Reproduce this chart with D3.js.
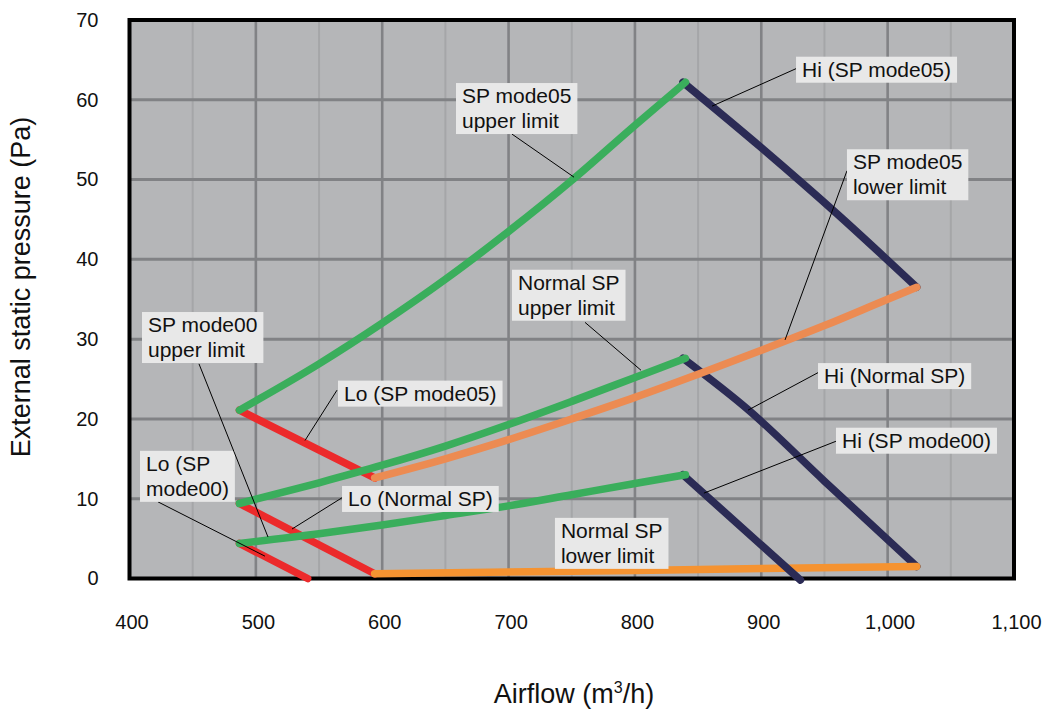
<!DOCTYPE html>
<html>
<head>
<meta charset="utf-8">
<script src="https://cdn.jsdelivr.net/npm/d3@7"></script>
<style>
  body { margin: 0; background: #fff; }
  text { font-family: "Liberation Sans", Arial, sans-serif; fill: #111; }
</style>
</head>
<body>
<div id="chart"></div>
<script>
// Chart values (airflow m3/h, pressure Pa)
var xTicks = [400, 500, 600, 700, 800, 900, 1000, 1100];
var yTicks = [0, 10, 20, 30, 40, 50, 60, 70];

// upper limit curves (green)
var flowUpper = [487, 550, 600, 650, 700, 750, 800, 840];
var sp05Upper = [21.1, 26.9, 32.0, 37.5, 43.5, 49.9, 56.8, 62.2];
var normalUpper = [9.4, 12.0, 14.2, 16.6, 19.3, 22.2, 25.2, 27.6];
var sp00Upper = [4.4, 5.6, 6.7, 7.9, 9.1, 10.5, 11.9, 13.0];

// Lo lines (red)
var flowLo05 = [487, 594];
var lo05 = [21.1, 12.6];
var flowLoNormal = [487, 594];
var loNormal = [9.4, 0.6];
var flowLo00 = [487, 541];
var lo00 = [4.4, 0];

// lower limit curves (orange)
var flowLower05 = [594, 650, 700, 750, 800, 850, 900, 950, 1000, 1023];
var sp05Lower = [12.6, 15.0, 17.4, 20.0, 22.7, 25.6, 28.6, 31.7, 35.0, 36.5];
var flowLowerNormal = [594, 700, 800, 900, 1023];
var normalLower = [0.6, 0.8, 1.0, 1.25, 1.5];

// Hi lines (navy)
var flowHi05 = [838, 900, 960, 1023];
var hi05 = [62.2, 54.0, 45.7, 36.5];
var flowHiNormal = [838, 890, 950, 1023];
var hiNormal = [27.6, 21.1, 12.2, 1.5];
var flowHi00 = [838, 931];
var hi00 = [13.0, -0.2];

// Callout labels: box corner (x, y) and leader line (from -> to), in data units
var callouts = [
  { lines: ["Hi (SP mode05)"], x: 927.5, y: 65.4, fx: 927.5, fy: 63.9, tx: 861, ty: 59.2 },
  { lines: ["SP mode05", "lower limit"], x: 967.8, y: 53.8, fx: 967.8, fy: 51.1, tx: 918.8, ty: 29.9 },
  { lines: ["SP mode05", "upper limit"], x: 658.4, y: 62.1, fx: 702.7, fy: 55.7, tx: 751.8, ty: 50.3 },
  { lines: ["Normal SP", "upper limit"], x: 702.7, y: 38.7, fx: 760.5, fy: 32.1, tx: 804.8, ty: 26.1 },
  { lines: ["Hi (Normal SP)"], x: 944.9, y: 27.0, fx: 944.9, fy: 25.8, tx: 889.5, ty: 21.1 },
  { lines: ["Hi (SP mode00)"], x: 959.1, y: 18.9, fx: 959.1, fy: 17.2, tx: 854.6, ty: 10.7 },
  { lines: ["Normal SP", "lower limit"], x: 736.7, y: 7.6 },
  { lines: ["Lo (Normal SP)"], x: 568.2, y: 11.6, fx: 569.0, fy: 10.2, tx: 528.6, ty: 6.2 },
  { lines: ["Lo (SP mode05)"], x: 565.0, y: 24.8, fx: 564.2, fy: 23.6, tx: 538.9, ty: 17.3 },
  { lines: ["Lo (SP", "mode00)"], x: 408.3, y: 16.0, fx: 422.6, fy: 9.6, tx: 507.2, ty: 2.8 },
  { lines: ["SP mode00", "upper limit"], x: 409.9, y: 33.4, fx: 455, fy: 26.9, tx: 509.6, ty: 5.2 }
];

var svgWidth = 1048;
var svgHeight = 713;

var margin = { top: 20, right: 34, bottom: 134.5, left: 129.5 };
var chartWidth = svgWidth - margin.left - margin.right;
var chartHeight = svgHeight - margin.top - margin.bottom;

var svg = d3.select("#chart")
  .append("svg")
  .attr("width", svgWidth)
  .attr("height", svgHeight);

var chartGroup = svg.append("g")
  .attr("transform", `translate(${margin.left}, ${margin.top})`);

var xScale = d3.scaleLinear().domain([400, 1100]).range([0, chartWidth]);
var yScale = d3.scaleLinear().domain([0, 70]).range([chartHeight, 0]);

// plot background
chartGroup.append("rect")
  .attr("width", chartWidth)
  .attr("height", chartHeight)
  .attr("fill", "#b5b6b8");

// vertical grid, every 50 (minor lighter)
var vGrid = d3.range(450, 1100, 50);
chartGroup.append("g").selectAll("line")
  .data(vGrid)
  .enter()
  .append("line")
  .attr("x1", d => xScale(d))
  .attr("x2", d => xScale(d))
  .attr("y1", 0)
  .attr("y2", chartHeight)
  .attr("stroke", d => d % 100 === 0 ? "#818285" : "#a5a6a8")
  .attr("stroke-width", d => d % 100 === 0 ? 2.6 : 2);

// horizontal grid
chartGroup.append("g").selectAll("line")
  .data(yTicks.slice(1, -1))
  .enter()
  .append("line")
  .attr("x1", 0)
  .attr("x2", chartWidth)
  .attr("y1", d => yScale(d))
  .attr("y2", d => yScale(d))
  .attr("stroke", "#818285")
  .attr("stroke-width", 3);

// frame
chartGroup.append("rect")
  .attr("width", chartWidth)
  .attr("height", chartHeight)
  .attr("fill", "none")
  .attr("stroke", "#000")
  .attr("stroke-width", 4);

// axes (labels only)
var xAxis = d3.axisBottom(xScale).tickValues(xTicks).tickSize(0).tickPadding(36)
  .tickFormat(d3.format(","));
var yAxis = d3.axisLeft(yScale).tickValues(yTicks).tickSize(0).tickPadding(31);

var xAxisG = chartGroup.append("g")
  .attr("transform", `translate(0, ${chartHeight})`)
  .call(xAxis);
var yAxisG = chartGroup.append("g").call(yAxis);
[xAxisG, yAxisG].forEach(function(g) {
  g.select(".domain").remove();
  g.selectAll("text").style("font-size", "20px").attr("fill", "#111")
    .style("font-family", "'Liberation Sans', Arial, sans-serif");
});
xAxisG.selectAll("text").attr("dx", 2);

// series lines
var line = d3.line()
  .x(d => xScale(d[0]))
  .y(d => yScale(d[1]))
  .curve(d3.curveMonotoneX);

function drawSeries(xs, ys, color) {
  chartGroup.append("path")
    .datum(d3.zip(xs, ys))
    .attr("d", line)
    .attr("fill", "none")
    .attr("stroke", color)
    .attr("stroke-width", 7.5)
    .attr("stroke-linecap", "round")
    .attr("stroke-linejoin", "round");
}

drawSeries(flowLo05, lo05, "#ec2a2b");
drawSeries(flowLoNormal, loNormal, "#ec2a2b");
drawSeries(flowLo00, lo00, "#ec2a2b");
drawSeries(flowHi05, hi05, "#2b2b55");
drawSeries(flowHiNormal, hiNormal, "#2b2b55");
drawSeries(flowLower05, sp05Lower, "#ec8b52");
drawSeries(flowLowerNormal, normalLower, "#f59331");
drawSeries(flowHi00, hi00, "#2b2b55");
drawSeries(flowUpper, sp05Upper, "#3aae5c");
drawSeries(flowUpper, normalUpper, "#3aae5c");
drawSeries(flowUpper, sp00Upper, "#3aae5c");

// callouts
var calloutGroup = chartGroup.append("g");
callouts.forEach(function(c) {
  if (c.tx !== undefined) {
    calloutGroup.append("line")
      .attr("x1", xScale(c.fx)).attr("y1", yScale(c.fy))
      .attr("x2", xScale(c.tx)).attr("y2", yScale(c.ty))
      .attr("stroke", "#000")
      .attr("stroke-width", 1);
  }
  var g = calloutGroup.append("g")
    .attr("transform", `translate(${xScale(c.x)}, ${yScale(c.y)})`);
  var box = g.append("rect").attr("fill", "#e8e8e8");
  var txt = g.append("text").style("font-size", "21px");
  c.lines.forEach(function(l, i) {
    txt.append("tspan").attr("x", 6).attr("y", 20 + i * 25).text(l);
  });
  var bb = txt.node().getBBox();
  box.attr("width", bb.width + 12).attr("height", c.lines.length * 25 + 1);
});

// axis titles
svg.append("text")
  .attr("transform", "translate(30, 287) rotate(-90)")
  .style("text-anchor", "middle")
  .style("font-size", "27px")
  .text("External static pressure (Pa)");

var xTitle = svg.append("text")
  .attr("x", 574)
  .attr("y", 703)
  .style("text-anchor", "middle")
  .style("font-size", "27px");
xTitle.append("tspan").text("Airflow (m");
xTitle.append("tspan").attr("dy", -10).style("font-size", "16px").text("3");
xTitle.append("tspan").attr("dy", 10).text("/h)");
</script>
</body>
</html>
